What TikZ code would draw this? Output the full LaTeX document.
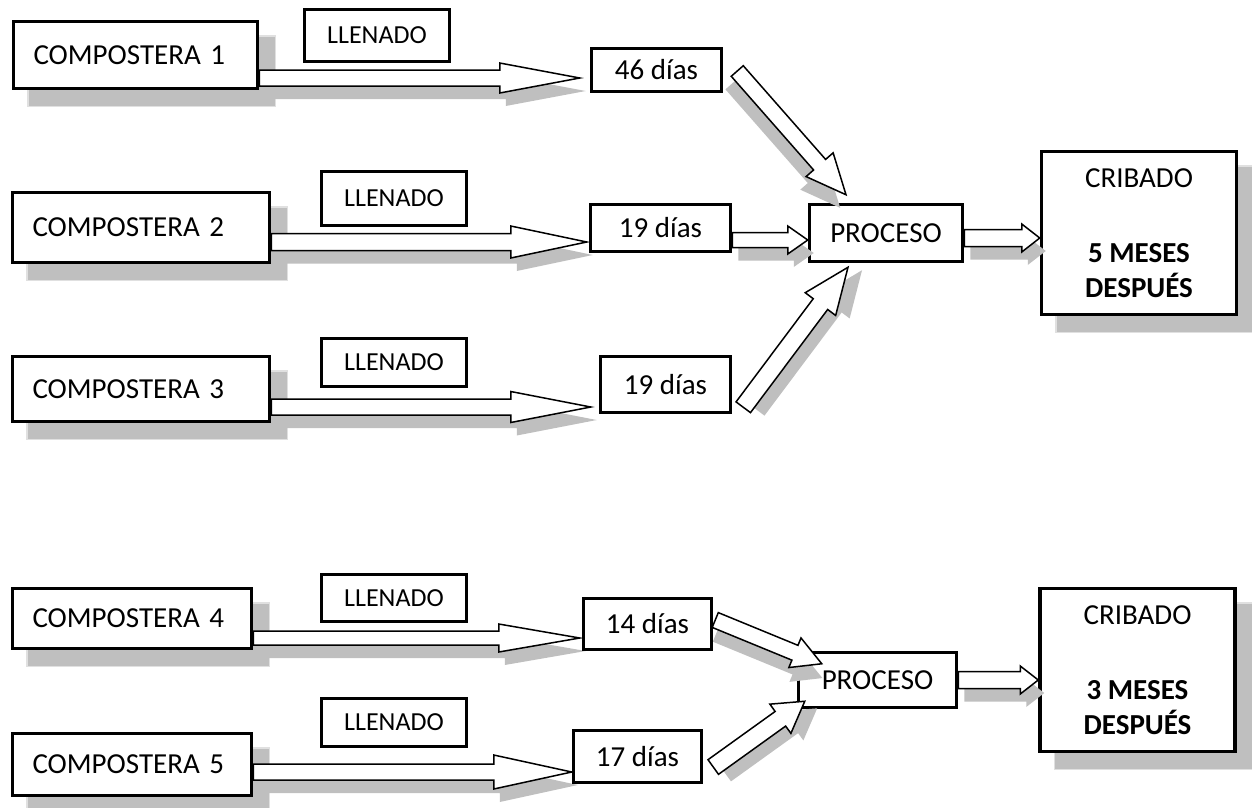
\documentclass[tikz,border=0pt]{standalone}
\usepackage{fontspec}
\setmainfont{Carlito}
\usepackage{tikz}
\usetikzlibrary{arrows.meta}
\usetikzlibrary{positioning, calc}

\pgfdeclarelayer{boxshadows}
\pgfdeclarelayer{back}
\pgfdeclarelayer{arrowshadows}
\pgfdeclarelayer{arrowlayer}
\pgfsetlayers{boxshadows,back,arrowshadows,arrowlayer,main}

\begin{document}
\begin{tikzpicture}[x=1pt, y=-1pt]
		% block arrow: [style] tail, tip, half shaft, half head, head length
		\newcommand*{\blockarrow}[6][arrowbody]{%
			\coordinate (ba-n) at ($(#3)!#6pt!(#2)$);
			\path[#1] ($(#2)!#4pt!90:(#3)$) -- ($(ba-n)!#4pt!90:(#3)$) -- ($(ba-n)!#5pt!90:(#3)$) -- (#3)
				-- ($(ba-n)!#5pt!-90:(#3)$) -- ($(ba-n)!#4pt!-90:(#3)$) -- ($(#2)!#4pt!-90:(#3)$) -- cycle;
		}
		\newcommand*{\blockshadow}[5]{%
			\coordinate (bs-p) at ($(#1)!13pt!-90:(#2)$);
			\coordinate (bs-q) at ($(#2)!13pt!90:(#1)$);
			\coordinate (bs-a) at ($(bs-p)!6pt!(bs-q)$);
			\coordinate (bs-b) at ($(bs-q)!-6pt!(bs-p)$);
			\blockarrow[arrowshade]{bs-a}{bs-b}{#3}{#4}{#5}
		}
		\tikzset{
			box/.style={draw, line width=3.5pt, fill=white, inner sep=0pt, font=\fontsize{29}{35}\selectfont},
			compbox/.style={box, align=left, inner xsep=20pt},
			fillbox/.style={box, minimum width=145pt, font=\fontsize{26}{31}\selectfont},
			endbox/.style={box, align=center, minimum width=195pt, minimum height=163pt},
			boxshadow/.style={fill=black!25, draw=black!12, line width=1.5pt},
			arrowbody/.style={draw, fill=white, line width=1.5pt},
			arrowshade/.style={fill=black!25},
		}
		\useasboundingbox (0,0) rectangle (1252,807);

		\node[compbox, minimum height=67pt, text width=204pt] (c1) at (135.5,55) {COMPOSTERA 1};
		\node[compbox, minimum height=70pt, text width=217pt] (c2) at (141,227.5) {COMPOSTERA 2};
		\node[compbox, minimum height=65pt, text width=217pt] (c3) at (141,389) {COMPOSTERA 3};
		\node[compbox, minimum height=60pt, text width=199pt] (c4) at (132,618.5) {COMPOSTERA 4};
		\node[compbox, minimum height=62pt, text width=199pt] (c5) at (132,764.5) {COMPOSTERA 5};

		\node[fillbox, minimum height=52pt] (l1) at (377,35.5) {LLENADO};
		\node[fillbox, minimum height=54pt] (l2) at (394,198.5) {LLENADO};
		\node[fillbox, minimum height=48pt] (l3) at (394,362.5) {LLENADO};
		\node[fillbox, minimum height=47pt] (l4) at (394,598) {LLENADO};
		\node[fillbox, minimum height=48pt] (l5) at (394,722.5) {LLENADO};

		\node[box, minimum width=130pt, minimum height=43pt] (d1) at (656.5,70) {46 días};
		\node[box, minimum width=140pt, minimum height=47pt] (d2) at (660.5,228) {19 días};
		\node[box, minimum width=130pt, minimum height=56pt] (d3) at (665.5,384.5) {19 días};
		\node[box, minimum width=128pt, minimum height=51pt] (d4) at (647.5,624) {14 días};
		\node[box, minimum width=128pt, minimum height=52pt] (d5) at (637.5,756.5) {17 días};

		\begin{pgfonlayer}{back}
			\node[box, minimum width=153pt, minimum height=57pt] (p1) at (886,233) {PROCESO};
			\node[box, minimum width=158pt, minimum height=55pt] (p2) at (877.5,680) {PROCESO};
			\node[endbox] (r1) at (1139,233) {CRIBADO\\[40pt]\textbf{5 MESES}\\\textbf{DESPUÉS}};
			\node[endbox] (r2) at (1137.5,670) {CRIBADO\\[40pt]\textbf{3 MESES}\\\textbf{DESPUÉS}};
		\end{pgfonlayer}

		\begin{pgfonlayer}{boxshadows}
			\foreach \n in {c1,c2,c3,c4,c5,r1,r2}
				\draw[boxshadow] ($(\n.north west)+(16,16)$) rectangle ($(\n.south east)+(16,16)$);
		\end{pgfonlayer}

		% arrow ends
		\coordinate (t1) at ($(d1.west)+(-10,8)$);
		\coordinate (s1) at (c1.east |- t1);
		\coordinate (t2) at ($(d2.west)+(-2,14)$);
		\coordinate (s2) at (c2.east |- t2);
		\coordinate (t3) at ($(d3.west)+(-8,22.5)$);
		\coordinate (s3) at (c3.east |- t3);
		\coordinate (t4) at ($(d4.west)+(-2,14)$);
		\coordinate (s4) at (c4.east |- t4);
		\coordinate (t5) at ($(d5.west)+(0,15.5)$);
		\coordinate (s5) at (c5.east |- t5);
		\coordinate (s6) at ($(d1.east)+(14,1)$);
		\coordinate (t6) at ($(p1.north)+(-40,-8)$);
		\coordinate (s7) at ($(d2.east)+(0,12)$);
		\coordinate (t7) at (p1.west |- s7);
		\coordinate (s8) at ($(d3.south east)+(11,-7)$);
		\coordinate (t8) at ($(p1.south)+(-38,4)$);
		\coordinate (s9) at ($(p1.east)+(0,5)$);
		\coordinate (t9) at (r1.west |- s9);
		\coordinate (s10) at ($(d4.east)+(2,-4)$);
		\coordinate (t10) at ($(p2.north west)+(25,13)$);
		\coordinate (s11) at ($(d5.east)+(10,10.5)$);
		\coordinate (t11) at ($(p2.south west)+(8,-8)$);
		\coordinate (s12) at (p2.east);
		\coordinate (t12) at (r2.west |- s12);

		\begin{pgfonlayer}{arrowshadows}
			\foreach \a/\b/\w/\h/\l in {s1/t1/8/15/80, s2/t2/8.5/16/76, s3/t3/8/15.5/80, s4/t4/7/14/81, s5/t5/8/17/78,
					s6/t6/8/18/40, s7/t7/7.5/14/20, s8/t8/9/19/46, s9/t9/8.5/14/18, s10/t10/8/16/29, s11/t11/9/18/30, s12/t12/8.5/14/18}
				{\blockshadow{\a}{\b}{\w}{\h}{\l}}
		\end{pgfonlayer}
		\begin{pgfonlayer}{arrowlayer}
			\foreach \a/\b/\w/\h/\l in {s1/t1/8/15/80, s2/t2/8.5/16/76, s3/t3/8/15.5/80, s4/t4/7/14/81, s5/t5/8/17/78,
					s6/t6/8/18/40, s7/t7/7.5/14/20, s8/t8/9/19/46, s9/t9/8.5/14/18, s10/t10/8/16/29, s11/t11/9/18/30, s12/t12/8.5/14/18}
				{\blockarrow{\a}{\b}{\w}{\h}{\l}}
		\end{pgfonlayer}
	\end{tikzpicture}
\end{document}
